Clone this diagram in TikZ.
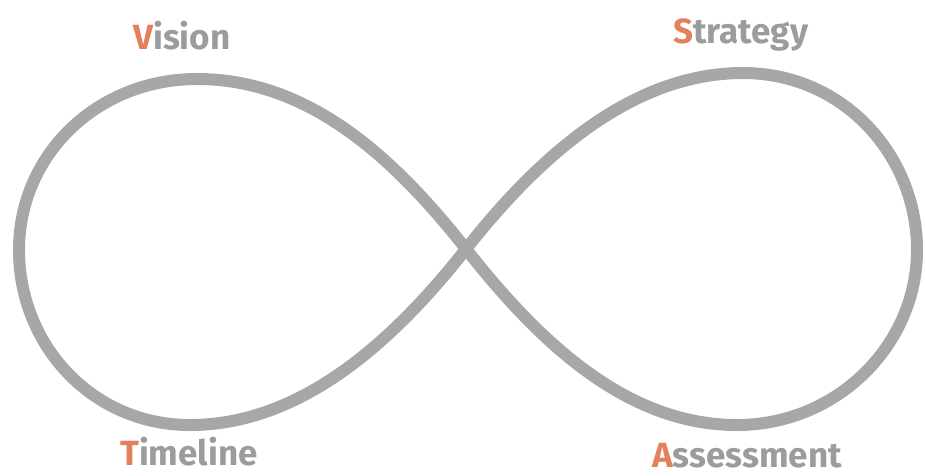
\documentclass[tikz,border=0pt]{standalone}
\usepackage{fontspec}
\setmainfont{Fira Sans}
\definecolor{loopgray}{HTML}{A7A7A7}
\definecolor{txtgray}{HTML}{9C9C9C}
\definecolor{accent}{HTML}{E5805C}
\tikzset{
  lbl/.style={anchor=base west, inner sep=0pt, text=txtgray, font=\fontsize{35}{40}\selectfont\bfseries},
  loop/.style={draw=loopgray, line width=12pt, line join=round}
}
\newcommand{\initial}[1]{\textcolor{accent}{#1}}
\begin{document}
\begin{tikzpicture}[x=1pt,y=-1pt]
\useasboundingbox (0,0) rectangle (925,475);
\fill[white] (0,0) rectangle (925,475);
\coordinate (C) at (466,249);
\draw[loop] (C) .. controls (392,155) and (307,79) .. (197,79)
  .. controls (97,79) and (19,155) .. (19,250)
  .. controls (19,345) and (92,425) .. (190,425)
  .. controls (300,425) and (392,343) .. (C)
  .. controls (540,155) and (633,73) .. (743,73)
  .. controls (843,73) and (917,155) .. (917,250)
  .. controls (917,345) and (837,425) .. (737,425)
  .. controls (627,425) and (540,343) .. (C) -- cycle;
\node[lbl] (vision) at (133,49) {\initial{V}ision};
\node[lbl] (strategy) at (673,43) {\initial{S}trategy};
\node[lbl] (timeline) at (120,465) {\initial{T}imeline};
\node[lbl] (assessment) at (652,467) {\initial{A}ssessment};
\end{tikzpicture}
\end{document}
